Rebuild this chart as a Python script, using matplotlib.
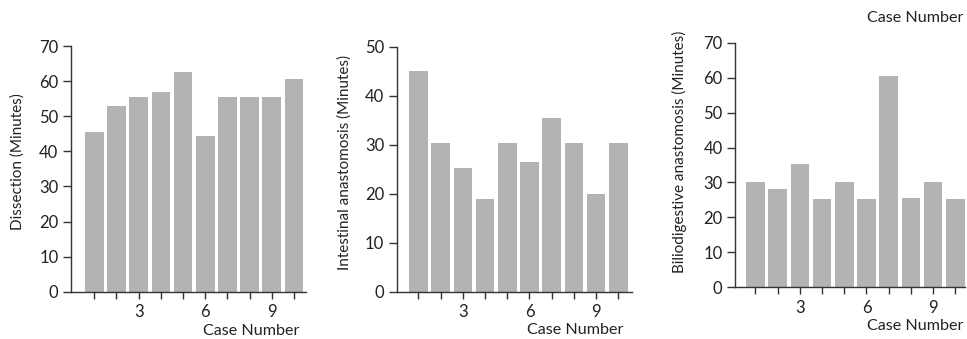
import numpy as np
import matplotlib.pyplot as plt

plt.rcParams['font.family'] = ['Lato', 'DejaVu Sans']

cases = np.arange(1, 11)
dissection = [45.5, 53, 55.5, 57, 62.5, 44.5, 55.5, 55.5, 55.5, 60.5]
intestinal = [45, 30.3, 25.2, 19, 30.3, 26.5, 35.5, 30.3, 20, 30.3]
biliodigestive = [30, 28, 35.3, 25.2, 30, 25.2, 60.5, 25.5, 30, 25.2]

ylabels = ['Dissection (Minutes)', 'Intestinal anastomosis (Minutes)',
           'Biliodigestive anastomosis (Minutes)']
ymax = [70, 50, 70]
tick_labels = ['' if c % 3 else str(c) for c in cases]

fig = plt.figure(figsize=(9.67, 3.39), dpi=100)
boxes = [[0.0734, 0.1395, 0.2430, 0.7245],
         [0.4102, 0.1395, 0.2430, 0.7227],
         [0.7601, 0.1525, 0.2379, 0.7215]]
xlims = [(-0.05, 10.54), (0.02, 10.6), (0.08, 10.44)]
ylab_xy = [(-0.198, 0.528), (-0.19, 0.529), (-0.209, 0.553)]
xlab_xy = [(0.970, -0.158), (0.964, -0.158), (0.993, -0.158)]

axc = '#333333'
txt = '#222222'
for i, vals in enumerate([dissection, intestinal, biliodigestive]):
    ax = fig.add_axes(boxes[i])
    ax.bar(cases, vals, width=0.84, color='#b3b3b3')
    ax.set_xlim(*xlims[i])
    ax.set_ylim(0, ymax[i])
    ax.set_yticks(np.arange(0, ymax[i] + 1, 10))
    ax.set_xticks(cases)
    ax.set_xticklabels(tick_labels)
    ax.spines['top'].set_visible(False)
    ax.spines['right'].set_visible(False)
    for s in ('left', 'bottom'):
        ax.spines[s].set_color(axc)
        ax.spines[s].set_linewidth(1.0)
    ax.tick_params(axis='both', direction='out', color=axc, width=1.0,
                   labelsize=12, labelcolor=txt)
    ax.tick_params(axis='x', length=5, pad=4)
    ax.tick_params(axis='y', length=6, pad=3)
    ax.set_ylabel(ylabels[i], fontsize=11, color=txt)
    ax.yaxis.set_label_coords(*ylab_xy[i])
    ax.set_xlabel('Case Number', fontsize=11.6, color=txt, ha='right',
                  va='center')
    ax.xaxis.set_label_coords(*xlab_xy[i])

fig.text(0.996, 0.947, 'Case Number', fontsize=11.6, color=txt,
         ha='right', va='center')

plt.savefig('out.png', dpi=100)
